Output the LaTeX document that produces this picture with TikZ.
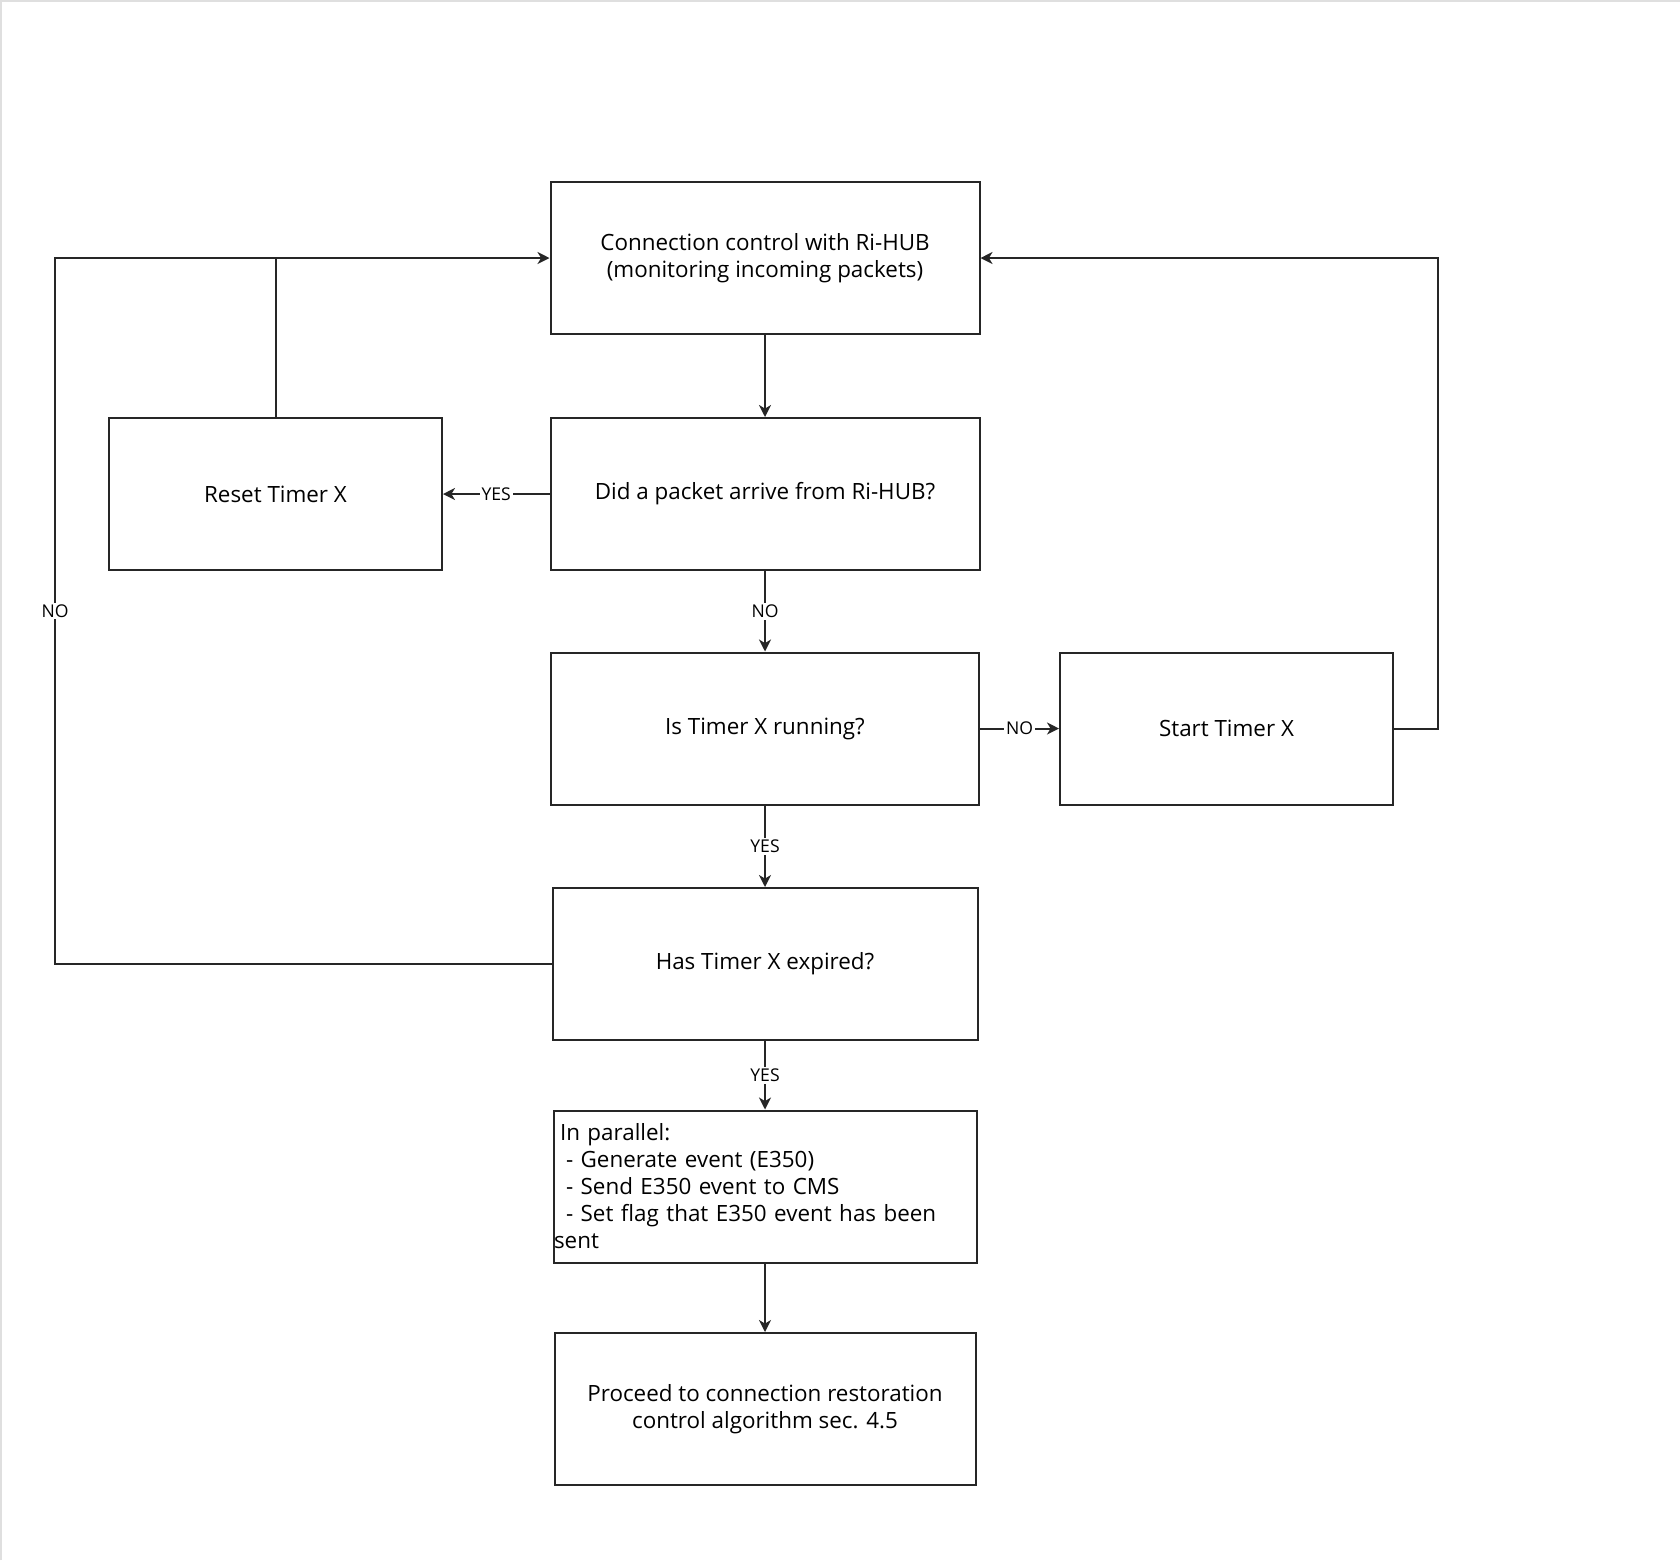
\documentclass[tikz,border=0pt]{standalone}
\usepackage{fontspec}
\setmainfont{Open Sans}
\usetikzlibrary{positioning, arrows.meta, calc}

\begin{document}
\begin{tikzpicture}[x=0.5pt, y=-0.5pt,
    box/.style={draw=black!85, line width=1pt, minimum height=76pt, align=center, font=\fontsize{11.2}{13.5}\selectfont, inner sep=2pt},
    flow/.style={draw=black!85, line width=1pt, -{Stealth[length=6pt, width=6pt, inset=1.8pt]}},
    link/.style={draw=black!85, line width=1pt},
    tag/.style={font=\fontsize{8.8}{10}\selectfont, fill=white, inner sep=1pt}]
    \useasboundingbox (0,0) rectangle (1680,1560);
    \draw[gray!25, line width=1pt] (1,1560) -- (1,1) -- (1680,1);

    \node[box, minimum width=214.5pt] (conn) at (765,258) {Connection control with Ri-HUB\\(monitoring incoming packets)};
    \node[box, minimum width=214.5pt] (pkt) at (765,494) {Did a packet arrive from Ri-HUB?};
    \node[box, minimum width=166.5pt] (reset) at (275.5,494) {Reset Timer X};
    \node[box, minimum width=214pt] (run) at (765,728.5) {Is Timer X running?};
    \node[box, minimum width=166.5pt] (start) at (1226.5,728.5) {Start Timer X};
    \node[box, minimum width=212.5pt] (exp) at (765,964) {Has Timer X expired?};
    \node[box, minimum width=211.5pt, text width=205pt, align=left, inner xsep=3pt] (par) at (765,1186.5) {In parallel:\\
        \hspace*{3pt}- Generate event (E350)\\
        \hspace*{3pt}- Send E350 event to CMS\\
        \hspace*{3pt}- Set flag that E350 event has been\\
        \hspace*{-3pt}sent};
    \node[box, minimum width=210.5pt] (proc) at (765,1409) {Proceed to connection restoration\\control algorithm sec. 4.5};

    \coordinate (lft) at (55,611);
    \coordinate (rgt) at (1438,729);

    \draw[flow] (conn) -- (pkt);
    \draw[flow] (pkt) -- node[tag]{YES} (reset);
    \draw[flow] (pkt) -- node[tag]{NO} (run);
    \draw[flow] (run) -- node[tag]{NO} (start);
    \draw[flow] (run) -- node[tag]{YES} (exp);
    \draw[flow] (exp) -- node[tag]{YES} (par);
    \draw[flow] (par) -- (proc);
    \draw[flow] (exp.west) -- (exp.west -| lft) -- node[tag]{NO} (conn.west -| lft) -- (conn.west);
    \draw[link] (reset.north) -- (reset.north |- conn.west);
    \draw[flow] (start.east) -- (start.east -| rgt) -- (rgt |- conn.east) -- (conn.east);
\end{tikzpicture}
\end{document}
